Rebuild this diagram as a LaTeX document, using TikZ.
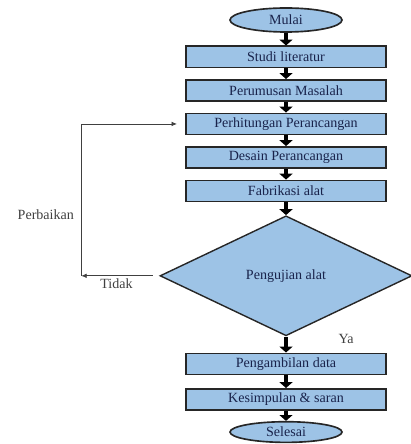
\documentclass[tikz,border=0pt]{standalone}
\usepackage{fontspec}
\setmainfont{Liberation Serif}
\usetikzlibrary{arrows.meta,positioning,calc,shapes.geometric}
\definecolor{flowblue}{RGB}{157,195,230}
\definecolor{flowtext}{RGB}{25,35,75}

\begin{document}
\begin{tikzpicture}[
    font=\fontsize{12}{14}\selectfont,
    node distance=3.2mm,
    % node styles
    terminal/.style = {draw=black!85, ellipse, line width=1.4pt, fill=flowblue,
                        text=flowtext, minimum width=3.36cm, minimum height=0.72cm,
                        inner sep=1pt},
    process/.style  = {draw=black!85, line width=1.3pt, fill=flowblue,
                        text=flowtext, minimum width=6cm, minimum height=0.64cm,
                        inner sep=1pt},
    decision/.style = {draw=black!85, diamond, line width=1.2pt, fill=flowblue,
                        text=flowtext, minimum width=7.56cm, minimum height=3.6cm,
                        inner sep=0pt},
    % edges
    flow/.style     = {-{Triangle[width=11pt,length=5pt]}, line width=3.5pt, black},
    back/.style     = {-{Latex[length=1.6mm,width=1.4mm]}, line width=0.6pt, black!75},
    lbl/.style      = {font=\fontsize{12}{14}\selectfont, text=black!75, inner sep=2pt}
  ]

\useasboundingbox (0,0) rectangle (12.3,-13.32);

% ============================================================
% Main column, top-down
% ============================================================
\node[terminal] (mulai) at (8.58,-0.6) {Mulai};
\node[process, below=3.8mm of mulai] (studi) {Studi literatur};
\node[process, below=of studi] (rumus) {Perumusan Masalah};
\node[process, below=of rumus] (hitung) {Perhitungan Perancangan};
\node[process, below=of hitung] (desain) {Desain Perancangan};
\node[process, below=of desain] (fabrik) {Fabrikasi alat};
\node[decision, below=3.8mm of fabrik] (uji) {Pengujian alat};
\node[process, below=4.8mm of uji] (ambil) {Pengambilan data};
\node[process, below=3.8mm of ambil] (simpul) {Kesimpulan \& saran};
\node[terminal, below=3mm of simpul, minimum height=0.62cm] (selesai) {Selesai};

% Flow arrows
\draw[flow] (mulai)  -- (studi);
\draw[flow] (studi)  -- (rumus);
\draw[flow] (rumus)  -- (hitung);
\draw[flow] (hitung) -- (desain);
\draw[flow] (desain) -- (fabrik);
\draw[flow] (fabrik) -- (uji);
\draw[flow] (uji)    -- (ambil);
\draw[flow] (ambil)  -- (simpul);
\draw[flow] (simpul) -- (selesai);

\node[lbl, anchor=west] (ya) at ($(uji.south)+(1.5,-0.08)$) {Ya};

% ============================================================
% Feedback loop (left side)
% ============================================================
\coordinate[left=2.34cm of uji.west] (loopbot);
\draw[back, shorten <=2mm] (uji.west) -- node[lbl, below, pos=0.55] {Tidak} (loopbot);
\draw[back, shorten >=2.5mm] (loopbot) |- node[lbl, left, pos=0.2, xshift=-4pt] {Perbaikan} (hitung.west);

\end{tikzpicture}
\end{document}
